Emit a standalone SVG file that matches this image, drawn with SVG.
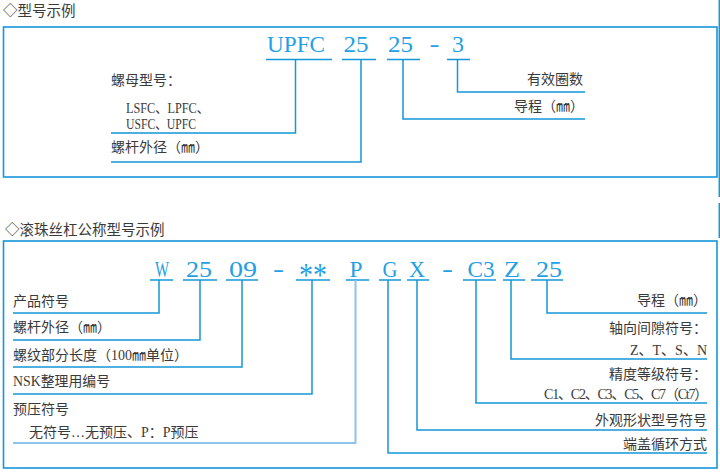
<svg xmlns="http://www.w3.org/2000/svg" width="720" height="472" viewBox="0 0 720 472">
<style>
.frame{fill:none;stroke:#1596d8;stroke-width:1.6}
.ln{fill:none;stroke:#1596d8;stroke-width:1.5}
.ul{stroke:#1596d8;stroke-width:1.5}
.code{font-family:"Liberation Serif",serif;font-size:24px;fill:#249fe6;text-anchor:middle}
.lab{font-family:"Liberation Serif","Noto Sans CJK SC",sans-serif;font-size:14px;fill:#3a3a3a}
.r{text-anchor:end}
.hd{font-family:"Noto Sans CJK SC",sans-serif;font-size:14.5px;fill:#3a3a3a}
</style>
<rect width="720" height="472" fill="#fff"/>
<!-- page edge -->
<line class="ln" x1="719.3" y1="0" x2="719.3" y2="197"/>
<line class="ln" x1="719.3" y1="203" x2="719.3" y2="238"/>

<text class="hd" x="3" y="16">◇型号示例</text>
<rect class="frame" x="3.5" y="27" width="713.5" height="150"/>

<g id="top-codes">
  <g id="c-upfc"><text class="code" x="296" y="52" textLength="58" lengthAdjust="spacingAndGlyphs">UPFC</text><line class="ul" x1="266" y1="59.5" x2="332" y2="59.5"/></g>
  <g id="c-25a"><text class="code" x="356" y="52" textLength="25" lengthAdjust="spacingAndGlyphs">25</text><line class="ul" x1="342" y1="59.5" x2="376" y2="59.5"/></g>
  <g id="c-25b"><text class="code" x="400.5" y="52" textLength="25" lengthAdjust="spacingAndGlyphs">25</text><line class="ul" x1="387" y1="59.5" x2="420" y2="59.5"/></g>
  <g id="c-dash1"><text class="code" x="434.5" y="52" textLength="10" lengthAdjust="spacingAndGlyphs">-</text></g>
  <g id="c-3"><text class="code" x="458" y="52">3</text><line class="ul" x1="447" y1="59.5" x2="470" y2="59.5"/></g>
</g>

<g id="top-labels">
  <g id="t-nut"><text class="lab" x="111" y="85">螺母型号：</text>
    <text class="lab" x="126" y="112.5" textLength="83" lengthAdjust="spacingAndGlyphs">LSFC、LPFC、</text>
    <text class="lab" x="126" y="129" textLength="70" lengthAdjust="spacingAndGlyphs">USFC、UPFC</text></g>
  <g id="t-dia"><text class="lab" x="111" y="152">螺杆外径（㎜）</text></g>
  <g id="t-turns"><text class="lab r" x="583" y="84">有效圈数</text></g>
  <g id="t-lead"><text class="lab r" x="584" y="111">导程（㎜）</text></g>
</g>

<g id="top-connectors">
  <path class="ln" d="M295.5 59.5V133H111"/>
  <path class="ln" d="M361 59.5V162H111"/>
  <path class="ln" d="M403 59.5V119H585"/>
  <path class="ln" d="M457.5 59.5V92H585"/>
</g>

<text class="hd" x="5" y="234.5">◇滚珠丝杠公称型号示例</text>
<rect class="frame" x="3.5" y="241" width="713.5" height="227"/>

<g id="bot-codes">
  <g id="b-w"><text class="code" x="162" y="277" textLength="14" lengthAdjust="spacingAndGlyphs">W</text><line class="ul" x1="150" y1="280" x2="173" y2="280"/></g>
  <g id="b-25"><text class="code" x="199" y="277" textLength="26" lengthAdjust="spacingAndGlyphs">25</text><line class="ul" x1="183" y1="280" x2="217" y2="280"/></g>
  <g id="b-09"><text class="code" x="243" y="277" textLength="28" lengthAdjust="spacingAndGlyphs">09</text><line class="ul" x1="226" y1="280" x2="258" y2="280"/></g>
  <g id="b-dash1"><text class="code" x="278.5" y="277" textLength="11" lengthAdjust="spacingAndGlyphs">-</text></g>
  <g id="b-star"><text class="code" x="313" y="286" style="font-size:34px" textLength="28" lengthAdjust="spacingAndGlyphs">**</text><line class="ul" x1="296" y1="280" x2="330" y2="280"/></g>
  <g id="b-p"><text class="code" x="356" y="277" textLength="13" lengthAdjust="spacingAndGlyphs">P</text><line class="ul" x1="346" y1="280" x2="369" y2="280"/></g>
  <g id="b-g"><text class="code" x="390" y="277" textLength="15" lengthAdjust="spacingAndGlyphs">G</text><line class="ul" x1="379" y1="280" x2="401" y2="280"/></g>
  <g id="b-x"><text class="code" x="417" y="277" textLength="16" lengthAdjust="spacingAndGlyphs">X</text><line class="ul" x1="407" y1="280" x2="429" y2="280"/></g>
  <g id="b-dash2"><text class="code" x="447.5" y="277" textLength="11" lengthAdjust="spacingAndGlyphs">-</text></g>
  <g id="b-c3"><text class="code" x="481" y="277" textLength="27" lengthAdjust="spacingAndGlyphs">C3</text><line class="ul" x1="463" y1="280" x2="496" y2="280"/></g>
  <g id="b-z"><text class="code" x="512" y="277" textLength="16" lengthAdjust="spacingAndGlyphs">Z</text><line class="ul" x1="503" y1="280" x2="525" y2="280"/></g>
  <g id="b-25b"><text class="code" x="549" y="277" textLength="26" lengthAdjust="spacingAndGlyphs">25</text><line class="ul" x1="531" y1="280" x2="563" y2="280"/></g>
</g>

<g id="bot-labels">
  <g id="l-prod"><text class="lab" x="13" y="306">产品符号</text></g>
  <g id="l-dia"><text class="lab" x="13" y="332">螺杆外径（㎜）</text></g>
  <g id="l-len"><text class="lab" x="13" y="360">螺纹部分长度（100㎜单位）</text></g>
  <g id="l-nsk"><text class="lab" x="13" y="386" textLength="97" lengthAdjust="spacingAndGlyphs">NSK整理用编号</text></g>
  <g id="l-pre"><text class="lab" x="13" y="414">预压符号</text>
    <text class="lab" x="29" y="437">无符号…无预压、P：P预压</text></g>
  <g id="r-lead"><text class="lab r" x="707" y="305">导程（㎜）</text></g>
  <g id="r-axial"><text class="lab r" x="707" y="333">轴向间隙符号：</text>
    <text class="lab r" x="707" y="355">Z、T、S、N</text></g>
  <g id="r-acc"><text class="lab r" x="707" y="379">精度等级符号：</text>
    <text class="lab" x="544" y="398.5" style="letter-spacing:-1.2px">C1、C2、C3、C5、C7（Ct7）</text></g>
  <g id="r-shape"><text class="lab r" x="707" y="425">外观形状型号符号</text></g>
  <g id="r-circ"><text class="lab r" x="707" y="449">端盖循环方式</text></g>
</g>

<g id="bot-connectors">
  <path class="ln" d="M159 280V313H13"/>
  <path class="ln" d="M200 280V340H13"/>
  <path class="ln" d="M242 280V367H13"/>
  <path class="ln" d="M312 280V394H13"/>
  <path class="ln" d="M355.5 280V443H13" style="stroke:#8cc4ee;stroke-width:2"/>
  <path class="ln" d="M388 280V453H707"/>
  <path class="ln" d="M417 280V430H707"/>
  <path class="ln" d="M476 280V403H707"/>
  <path class="ln" d="M511 280V359H707"/>
  <path class="ln" d="M547 280V313H707"/>
</g>
</svg>
